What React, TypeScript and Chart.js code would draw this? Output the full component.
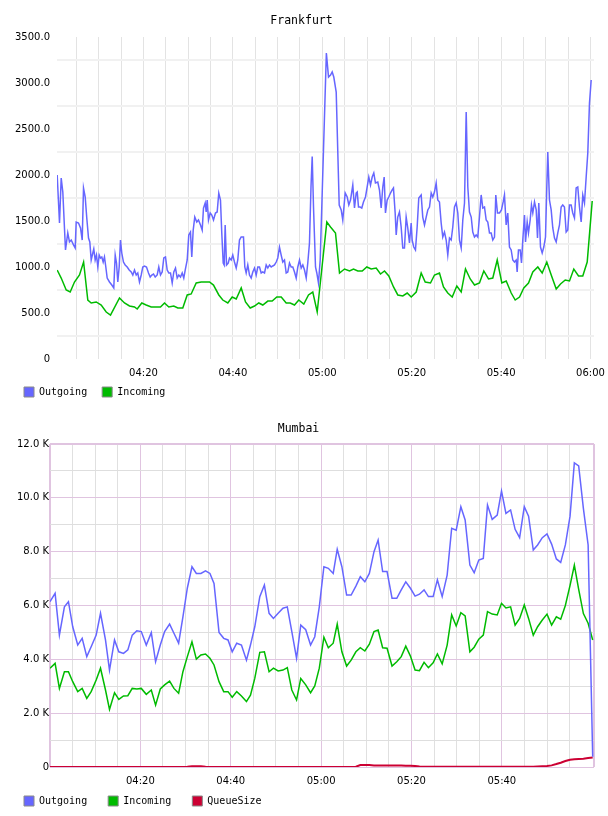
import React, { useEffect, useRef } from 'react';
import { Chart, registerables } from 'chart.js';

Chart.register(...registerables);

// ---------- Frankfurt (x = minutes after 04:00) ----------
const fraOutTimes = [
  0.69,1.21,1.59,1.95,2.55,3.06,3.44,3.83,4.34,4.72,
  4.94,5.46,5.91,6.29,6.58,6.96,7.31,7.70,7.99,8.30,
  8.66,8.88,9.19,9.48,9.78,10.09,10.38,10.67,10.98,11.27,
  11.57,11.88,12.39,12.91,13.35,13.67,13.96,14.25,14.56,14.85,
  15.14,15.52,15.90,16.35,16.80,17.25,17.61,17.99,18.37,18.72,
  19.10,19.49,19.84,20.22,20.67,21.12,21.50,21.86,22.24,22.62,
  23.06,23.42,23.80,24.18,24.54,24.92,25.30,25.66,26.04,26.42,
  26.78,27.16,27.54,27.90,28.28,28.66,29.01,29.33,29.78,30.13,
  30.51,30.80,31.12,31.47,31.92,32.30,32.75,33.13,33.42,33.80,
  34.02,34.25,34.54,34.92,35.28,35.66,36.10,36.48,36.84,37.22,
  37.51,37.83,38.05,38.27,38.57,38.95,39.24,39.62,39.97,40.35,
  40.74,41.09,41.47,41.85,42.37,42.66,42.97,43.33,43.71,44.09,
  44.45,44.83,45.21,45.57,45.95,46.33,46.69,47.07,47.45,47.81,
  48.19,48.57,48.92,49.30,49.69,50.04,50.42,50.80,51.16,51.54,
  51.92,52.28,52.66,53.04,53.40,53.78,54.16,54.52,54.90,55.28,
  55.64,56.02,56.40,56.75,57.13,57.47,57.74,58.03,58.48,58.77,
  59.14,59.53,60.91,61.39,61.84,62.21,62.57,63.11,63.78,64.23,
  64.58,65.12,65.57,65.93,66.31,66.82,67.20,67.58,67.81,68.10,
  68.47,68.83,69.21,69.66,70.04,70.40,70.78,71.16,71.52,71.89,
  72.41,72.79,73.17,73.53,73.84,74.13,74.51,74.87,75.25,75.63,
  75.92,76.30,76.53,76.88,77.26,77.64,78.00,78.38,78.76,79.12,
  79.50,79.88,80.10,80.46,80.84,81.22,81.58,82.12,82.47,82.86,
  83.24,83.60,83.98,84.36,84.71,85.09,85.47,85.83,86.21,86.59,
  86.95,87.33,87.71,88.07,88.45,88.83,89.19,89.57,89.95,90.31,
  90.69,91.07,91.43,91.81,92.19,92.55,92.92,93.31,93.66,94.04,
  94.42,94.78,95.16,95.54,95.90,96.28,96.66,97.02,97.40,97.78,
  98.14,98.52,98.81,99.19,99.64,100.08,100.46,100.75,101.13,101.49,
  101.87,102.25,102.61,102.99,103.37,103.59,103.88,104.27,104.56,104.85,
  105.23,105.46,105.83,106.12,106.50,106.79,107.09,107.47,107.85,108.14,
  108.43,108.81,109.19,109.55,109.93,110.22,110.44,110.82,111.20,111.56,
  111.94,112.32,112.68,113.06,113.43,113.79,114.17,114.55,114.91,115.29,
  115.67,116.03,116.41,116.79,117.15,117.53,117.91,118.27,118.65,119.03,
  119.39,119.77,120.15,
];
const fraOutgoing = [
  2000,1478,1967,1815,1185,1370,1272,1293,1240,1207,
  1489,1478,1424,1293,1859,1761,1533,1315,1272,1076,
  1152,1196,1076,1130,1000,1130,1098,1109,1054,1109,
  1000,880,837,804,772,1130,1043,837,1000,1293,
  1152,1054,1022,1000,967,946,913,967,913,935,
  837,913,1000,1011,1000,935,891,913,924,891,
  913,1000,913,946,1098,1109,967,935,935,826,
  946,989,880,913,891,935,880,967,1076,1348,
  1380,1109,1402,1543,1489,1511,1457,1402,1641,1696,
  1598,1728,1511,1587,1565,1511,1587,1598,1804,1728,
  1370,1043,1022,1457,1022,1043,1098,1076,1130,1054,
  989,1076,1293,1326,1326,1000,935,1022,913,880,
  946,989,913,1000,1000,935,946,935,1022,989,
  1022,1000,1011,1022,1054,1098,1217,1130,1054,1076,
  935,946,1043,1000,1000,946,880,1000,1076,989,
  1022,967,880,1043,1261,1870,2200,1652,1000,935,
  826,1076,3326,3065,3087,3120,3065,2902,1674,1620,
  1511,1804,1761,1674,1728,1891,1641,1804,1815,1652,
  1652,1641,1707,1761,1870,1978,1891,1978,2022,1913,
  1924,1837,1641,1870,1978,1587,1728,1761,1804,1837,
  1859,1587,1348,1543,1598,1435,1207,1207,1543,1424,
  1261,1478,1293,1217,1185,1435,1750,1783,1543,1457,
  1543,1620,1652,1804,1761,1815,1913,1728,1707,1478,
  1326,1380,1293,1130,1315,1293,1435,1652,1696,1587,
  1293,1207,1511,1696,2685,1870,1598,1543,1380,1326,
  1348,1326,1543,1783,1641,1652,1511,1489,1370,1370,
  1293,1326,1783,1587,1587,1620,1707,1783,1457,1587,
  1217,1185,1076,1054,1076,946,1185,1185,1043,1293,
  1565,1272,1489,1370,1511,1674,1587,1707,1620,1315,
  1696,1217,1152,1217,1326,1870,2250,1728,1620,1424,
  1315,1272,1370,1457,1652,1674,1652,1380,1402,1674,
  1674,1587,1533,1859,1870,1652,1489,1783,1696,1978,
  2239,2783,3033,
];
const fraInTimes = [
  0.69,1.59,2.71,3.60,4.56,5.68,6.60,7.54,8.30,9.42,
  10.54,11.66,12.62,14.63,15.75,16.87,17.99,18.59,19.62,20.60,
  21.72,23.20,23.80,24.70,25.66,26.78,27.67,28.79,29.78,30.67,
  31.79,32.91,34.77,35.66,36.85,37.74,38.86,39.84,40.74,41.86,
  42.82,43.87,44.83,45.79,46.69,47.81,48.79,49.82,50.81,51.92,
  52.82,53.78,54.74,55.86,56.91,57.87,58.86,61.01,61.84,62.95,
  63.85,64.97,66.09,66.98,67.94,68.93,69.96,70.94,72.06,73.02,
  73.91,74.88,75.93,76.89,78.01,78.99,79.89,81.01,82.12,83.02,
  84.20,85.10,86.21,87.11,88.07,89.06,90.09,91.07,92.03,93.09,
  94.05,95.16,96.13,97.18,98.14,99.13,100.16,101.14,102.26,103.15,
  104.12,105.08,106.13,107.09,108.21,109.19,110.22,111.21,112.33,113.29,
  114.34,115.30,116.26,117.32,118.27,119.26,120.38,
];
const fraIncoming = [
  967,880,750,728,837,913,1054,641,609,620,
  587,511,478,663,609,576,565,543,609,587,
  565,565,565,609,565,576,554,554,696,707,
  826,837,837,804,696,641,609,674,652,772,
  620,554,576,609,587,630,630,674,674,609,
  609,587,641,598,696,728,511,1489,1435,1370,
  935,978,957,978,957,957,1000,978,989,924,
  957,902,783,696,685,717,674,728,935,837,
  826,913,935,783,717,674,793,728,978,870,
  804,826,957,870,880,1076,826,848,717,641,
  674,772,826,946,1000,935,1054,913,761,815,
  859,848,978,902,902,1054,1717,
];
const fraXTicks = [5,10,15,20,25,30,35,40,45,50,55,60,65,70,75,80,85,90,95,100,105,110,115,120];
const fraYTicks = [0,250,500,750,1000,1250,1500,1750,2000,2250,2500,2750,3000,3250,3500];

// ---------- Mumbai (x = minutes after 04:00) ----------
const mumTimes = [
  0,1.13,2.08,3.19,4.08,5.03,6.14,7.12,8.14,9.11,
  10.22,11.18,12.28,13.17,14.28,15.23,16.27,17.23,18.20,19.22,
  20.20,21.31,22.42,23.37,24.41,25.37,26.47,27.43,28.47,29.42,
  30.40,31.42,32.39,33.40,34.42,35.40,36.30,37.41,38.45,39.40,
  40.33,41.33,42.37,43.48,44.37,45.32,46.43,47.45,48.49,49.45,
  50.49,51.56,52.52,53.52,54.57,55.50,56.60,57.67,58.60,59.60,
  60.62,61.60,62.68,63.57,64.60,65.65,66.65,67.70,68.68,69.68,
  70.68,71.71,72.62,73.62,74.60,75.70,76.75,77.74,78.74,79.77,
  80.80,81.77,82.79,83.75,84.79,85.74,86.80,87.90,88.90,89.90,
  90.93,91.88,92.93,93.88,94.90,95.90,96.83,97.87,98.98,99.93,
  100.91,101.94,102.94,103.94,104.97,105.92,106.96,107.92,108.96,110.00,
  111.02,112.07,113.03,114.06,115.10,116.05,117.01,118.05,119.10,120.11,
];
const mumOutgoing = [
  6140,6450,4900,5950,6140,5210,4530,4780,4100,4470,
  4900,5710,4720,3600,4720,4280,4220,4350,4900,5060,
  5030,4530,4990,3910,4530,5030,5310,4970,4600,5580,
  6650,7440,7190,7190,7290,7190,6820,5000,4780,4720,
  4280,4600,4530,3970,4530,5210,6330,6760,5710,5520,
  5710,5900,5950,5030,4040,5270,5100,4530,4840,5950,
  7440,7380,7190,8090,7440,6390,6390,6720,7070,6880,
  7190,8000,8430,7260,7260,6270,6270,6580,6880,6640,
  6350,6420,6580,6330,6330,6950,6330,7130,8870,8800,
  9670,9180,7500,7220,7690,7750,9730,9200,9360,10250,
  9420,9550,8830,8520,9670,9320,8060,8250,8520,8660,
  8280,7730,7600,8250,9320,11300,11190,9610,8250,380,
];
const mumIncoming = [
  3670,3850,2920,3540,3540,3170,2800,2920,2550,2800,
  3230,3670,2860,2140,2760,2510,2640,2650,2920,2900,
  2920,2700,2860,2300,2900,3050,3190,2920,2740,3540,
  4100,4650,4010,4160,4200,4040,3790,3170,2800,2800,
  2590,2800,2640,2430,2670,3290,4260,4280,3540,3670,
  3570,3600,3690,2860,2490,3290,3050,2760,3010,3670,
  4820,4430,4600,5310,4280,3750,3970,4280,4430,4310,
  4560,5030,5090,4430,4410,3750,3910,4100,4490,4120,
  3600,3580,3890,3690,3870,4200,3830,4530,5650,5240,
  5730,5610,4280,4450,4750,4900,5770,5680,5650,6080,
  5910,5950,5270,5520,6020,5520,4900,5210,5460,5680,
  5270,5580,5490,6000,6750,7500,6600,5700,5340,4720,
];
const mumQueue = [
  0,0,0,0,0,0,0,0,0,0,
  0,0,0,0,0,0,0,0,0,0,
  0,0,0,0,0,0,0,0,0,0,
  10,30,30,30,10,0,0,0,0,0,
  0,0,0,0,0,0,0,0,0,0,
  0,0,0,0,0,0,0,0,0,0,
  0,0,0,0,0,0,0,10,70,70,
  70,60,60,60,60,60,60,60,50,50,
  40,20,10,10,10,10,10,10,10,10,
  10,10,10,10,10,10,10,10,10,10,
  10,10,10,10,10,10,10,20,30,40,
  60,110,160,220,270,290,300,310,330,350,
];
const mumXTicks = [0,5,10,15,20,25,30,35,40,45,50,55,60,65,70,75,80,85,90,95,100,105,110,115];
const mumYTicks = [0,1000,2000,3000,4000,5000,6000,7000,8000,9000,10000,11000,12000];

// ---------- styling ----------
const BLUE = '#6666ff';
const GREEN = '#00bb00';
const RED = '#cc0033';
const PINK = '#e0c4e0';
const TICK_FONT = { family: 'DejaVu Sans', size: 10 };
const LEGEND_FONT = { family: 'DejaVu Sans Mono', size: 10 };
const TITLE_FONT = { family: 'DejaVu Sans Mono', size: 11.5, weight: 'normal' as const };

const pts = (times: number[], values: number[]) => times.map((t, i) => ({ x: t, y: values[i] }));

const fmtTime = (v: number) => {
  const h = 4 + Math.floor(v / 60);
  const m = Math.round(v - Math.floor(v / 60) * 60);
  return `${String(h).padStart(2, '0')}:${String(m).padStart(2, '0')}`;
};

const legendLabels = (chart: any) =>
  (Chart.defaults.plugins.legend.labels as any)
    .generateLabels(chart)
    .map((l: any) => ({ ...l, strokeStyle: '#8a8a8a', lineWidth: 1 }));

// The x axis keeps a thin box for layout (so the legend sits close below it);
// after layout its box is enlarged so its tick labels are not clipped.
const xLabelRoom = {
  id: 'xLabelRoom',
  afterLayout(chart: any) {
    const x = chart.scales.x;
    if (x) {
      x.bottom = x.top + 24;
      x.height = 24;
    }
  },
};

const line = (label: string, data: any[], color: string, width: number) => ({
  label,
  data,
  borderColor: color,
  backgroundColor: color,
  borderWidth: width,
  pointRadius: 0,
  tension: 0,
});

function frankfurtConfig(): any {
  return {
    type: 'line',
    data: {
      datasets: [
        line('Outgoing', pts(fraOutTimes, fraOutgoing), BLUE, 1.5),
        line('Incoming', pts(fraInTimes, fraIncoming), GREEN, 1.5),
      ],
    },
    plugins: [xLabelRoom],
    options: {
      animation: false,
      responsive: false,
      events: [],
      layout: { padding: { left: 9, right: 14, top: 0, bottom: 1 } },
      plugins: {
        title: { display: true, text: 'Frankfurt', font: TITLE_FONT, color: '#000', padding: { top: 13.8, bottom: 9.4 } },
        legend: {
          position: 'bottom',
          align: 'start',
          labels: { boxWidth: 10, boxHeight: 10, padding: 15, font: LEGEND_FONT, color: '#000', generateLabels: legendLabels },
        },
        tooltip: { enabled: false },
      },
      scales: {
        x: {
          type: 'linear',
          min: 0.65,
          max: 120.78,
          afterBuildTicks: (s: any) => { s.ticks = fraXTicks.map((v) => ({ value: v })); },
          afterFit: (s: any) => { s.height = 13; s.paddingLeft = 0; s.paddingRight = 0; },
          ticks: {
            autoSkip: false, maxRotation: 0, padding: 8, font: TICK_FONT, color: '#000',
            callback: (v: number) => (v % 20 === 0 ? fmtTime(v) : ''),
          },
          grid: { drawTicks: false, color: '#e3e3e3', lineWidth: 1 },
          border: { display: false },
        },
        y: {
          type: 'linear',
          min: 0,
          max: 3500,
          afterBuildTicks: (s: any) => { s.ticks = fraYTicks.map((v) => ({ value: v })); },
          afterFit: (s: any) => { s.width = 48; },
          ticks: {
            autoSkip: false, padding: 7, font: TICK_FONT, color: '#000',
            callback: (v: number) => (v % 500 === 0 ? (v === 0 ? '0' : v.toFixed(1)) : ''),
          },
          grid: {
            drawTicks: false,
            lineWidth: 2,
            color: (ctx: any) => (ctx.tick && ctx.tick.value % 500 !== 0 ? '#f1f1f1' : 'rgba(0,0,0,0)'),
          },
          border: { display: false },
        },
      },
    },
  };
}

function mumbaiConfig(): any {
  const X_MAX = 120.4;
  return {
    type: 'line',
    data: {
      datasets: [
        line('Outgoing', pts(mumTimes, mumOutgoing), BLUE, 1.5),
        line('Incoming', pts(mumTimes, mumIncoming), GREEN, 1.5),
        line('QueueSize', pts(mumTimes, mumQueue), RED, 2),
      ],
    },
    plugins: [xLabelRoom],
    options: {
      animation: false,
      responsive: false,
      events: [],
      layout: { padding: { left: 3, right: 14, top: 0, bottom: 0 } },
      plugins: {
        title: { display: true, text: 'Mumbai', font: TITLE_FONT, color: '#000', padding: { top: 14.1, bottom: 8.1 } },
        legend: {
          position: 'bottom',
          align: 'start',
          labels: { boxWidth: 10, boxHeight: 10, padding: 21, font: LEGEND_FONT, color: '#000', generateLabels: legendLabels },
        },
        tooltip: { enabled: false },
      },
      scales: {
        x: {
          type: 'linear',
          min: 0,
          max: X_MAX,
          afterBuildTicks: (s: any) => { s.ticks = [...mumXTicks, X_MAX].map((v) => ({ value: v })); },
          afterFit: (s: any) => { s.height = 8; s.paddingLeft = 0; s.paddingRight = 0; },
          ticks: {
            autoSkip: false, maxRotation: 0, padding: 8, font: TICK_FONT, color: '#000',
            callback: (v: number) => (v % 20 === 0 && v > 0 && v < 120 ? fmtTime(v) : ''),
          },
          grid: {
            drawTicks: false,
            color: (ctx: any) => {
              const v = ctx.tick ? ctx.tick.value : 1;
              return v % 20 === 0 || v === X_MAX ? PINK : '#e0e0e0';
            },
            lineWidth: (ctx: any) => {
              const v = ctx.tick ? ctx.tick.value : 1;
              return v === 0 || v === X_MAX ? 2 : 1;
            },
          },
          border: { display: false },
        },
        y: {
          type: 'linear',
          min: 0,
          max: 12000,
          afterBuildTicks: (s: any) => { s.ticks = mumYTicks.map((v) => ({ value: v })); },
          afterFit: (s: any) => { s.width = 47; },
          ticks: {
            autoSkip: false, padding: 1, font: TICK_FONT, color: '#000',
            callback: (v: number) => (v % 2000 === 0 ? (v === 0 ? '0' : `${(v / 1000).toFixed(1)} K`) : ''),
          },
          grid: {
            drawTicks: false,
            color: (ctx: any) => (ctx.tick && ctx.tick.value % 2000 === 0 ? PINK : '#dedede'),
            lineWidth: (ctx: any) => (ctx.tick && ctx.tick.value === 12000 ? 2 : 1),
          },
          border: { display: false },
        },
      },
    },
  };
}

export default function App() {
  const topRef = useRef<HTMLCanvasElement | null>(null);
  const botRef = useRef<HTMLCanvasElement | null>(null);

  useEffect(() => {
    const charts: Chart[] = [];
    if (topRef.current) charts.push(new Chart(topRef.current, frankfurtConfig()));
    if (botRef.current) charts.push(new Chart(botRef.current, mumbaiConfig()));
    return () => charts.forEach((c) => c.destroy());
  }, []);

  return (
    <div style={{ position: 'absolute', left: 0, top: 0, width: 608, height: 816, background: '#fff' }}>
      <div style={{ position: 'absolute', left: 0, top: 0, width: 608, height: 408 }}>
        <canvas ref={topRef} width={608} height={408} style={{ display: 'block', width: 608, height: 408 }} />
      </div>
      <div style={{ position: 'absolute', left: 0, top: 408, width: 608, height: 408 }}>
        <canvas ref={botRef} width={608} height={408} style={{ display: 'block', width: 608, height: 408 }} />
      </div>
    </div>
  );
}
